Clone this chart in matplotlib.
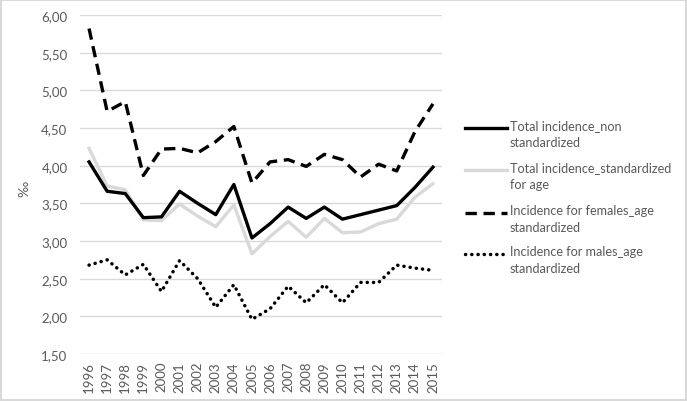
import matplotlib
matplotlib.use("Agg")
import matplotlib.pyplot as plt
from matplotlib.lines import Line2D
from matplotlib.ticker import FuncFormatter

years = [str(y) for y in range(1996, 2016)]
total_non_std = [4.05, 3.66, 3.63, 3.31, 3.32, 3.66, 3.50, 3.35, 3.75, 3.04,
                 3.23, 3.45, 3.30, 3.45, 3.29, 3.35, 3.41, 3.47, 3.71, 3.98]
total_std_age = [4.23, 3.73, 3.68, 3.28, 3.27, 3.49, 3.33, 3.19, 3.48, 2.83,
                 3.06, 3.26, 3.05, 3.30, 3.11, 3.12, 3.23, 3.29, 3.58, 3.76]
females_std = [5.82, 4.72, 4.85, 3.87, 4.22, 4.23, 4.17, 4.32, 4.52, 3.77,
               4.05, 4.08, 3.99, 4.15, 4.08, 3.85, 4.02, 3.93, 4.45, 4.82]
males_std = [2.68, 2.75, 2.55, 2.69, 2.33, 2.74, 2.50, 2.12, 2.42, 1.96,
             2.10, 2.40, 2.18, 2.42, 2.18, 2.45, 2.45, 2.68, 2.64, 2.61]
labels = ["Total incidence_non\nstandardized",
          "Total incidence_standardized\nfor age",
          "Incidence for females_age\nstandardized",
          "Incidence for males_age\nstandardized"]

plt.rcParams['font.family'] = ['Lato', 'DejaVu Sans']
txt_color = "#595959"

fig = plt.figure(figsize=(6.87, 4.02), dpi=100)
fig.patch.set_edgecolor("#d9d9d9")
fig.patch.set_linewidth(1.5)
ax = fig.add_axes([80/687, 1-355/402, 362/687, 339/402])

x = list(range(len(years)))
styles = [
    dict(color="black", lw=2.4, linestyle="-"),
    dict(color="#d9d9d9", lw=2.4, linestyle="-"),
    dict(color="black", lw=2.4, linestyle=(0, (3.4, 2.0))),
    dict(color="black", lw=2.5, linestyle=(0, (0.05, 1.75)), dash_capstyle="round"),
]
series = [total_non_std, total_std_age, females_std, males_std]
order = [1, 0, 2, 3]
for i in order:
    ax.plot(x, series[i], **styles[i], zorder=3 if i != 1 else 2)

ax.set_xlim(-0.5, len(years) - 0.5)
ax.set_ylim(1.5, 6.0)
ax.set_yticks([1.5 + 0.5 * k for k in range(10)])
ax.yaxis.set_major_formatter(FuncFormatter(lambda v, p: f"{v:.2f}".replace(".", ",")))
ax.set_xticks(x)
ax.set_xticklabels(years, rotation=90)
ax.tick_params(axis="both", length=0, labelsize=9.5, colors=txt_color)
ax.tick_params(axis="y", pad=9)
ax.tick_params(axis="x", pad=5)
ax.grid(axis="y", color="#d9d9d9", lw=1)
ax.set_axisbelow(True)
for s in ax.spines.values():
    s.set_visible(False)
ax.set_ylabel("‰", color=txt_color, fontsize=10)
ax.yaxis.set_label_coords(-0.138, 0.49)

# legend
leg_y = [129, 171, 214, 255]
for i, yy in enumerate(leg_y):
    yf = 1 - yy / 402
    kw = dict(styles[i])
    fig.add_artist(Line2D([465/687, 507/687], [yf, yf], transform=fig.transFigure, **kw))
    fig.text(510/687, yf + 8.5/402, labels[i], ha="left", va="top", fontsize=9.1,
             color=txt_color, linespacing=1.45)

fig.savefig("out.png", dpi=100)
